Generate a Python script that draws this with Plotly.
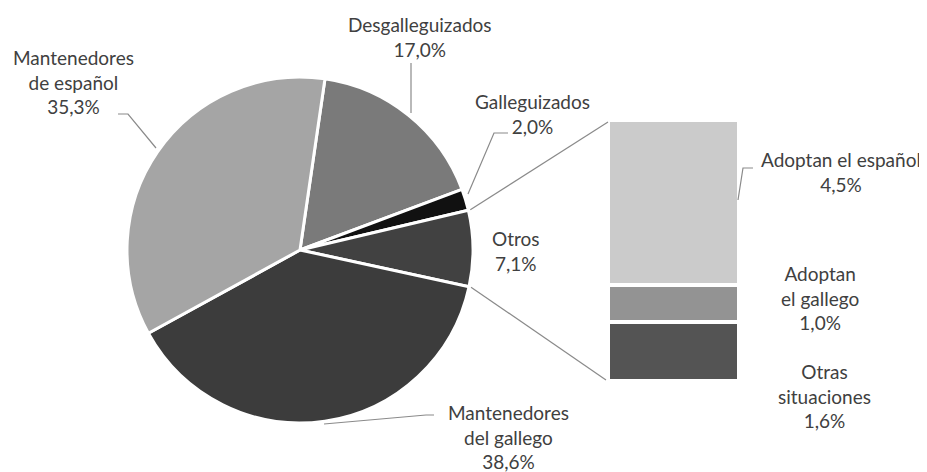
import math
import plotly.graph_objects as go

# ---- data ----
pie_labels = ["Desgalleguizados", "Galleguizados", "Otros",
              "Mantenedores del gallego", "Mantenedores de español"]
pie_values = [17.0, 2.0, 7.1, 38.6, 35.3]
pie_colors = ["#7a7a7a", "#111111", "#414141", "#3c3c3c", "#a5a5a5"]

bar_labels = ["Otras situaciones", "Adoptan el gallego", "Adoptan el español"]
bar_values = [1.6, 1.0, 4.5]
bar_colors = ["#545454", "#939393", "#cbcbcb"]

# label line splits (text), display lines
pie_label_lines = {
    "Desgalleguizados": ["Desgalleguizados"],
    "Galleguizados": ["Galleguizados"],
    "Otros": ["Otros"],
    "Mantenedores del gallego": ["Mantenedores", "del gallego"],
    "Mantenedores de español": ["Mantenedores", "de español"],
}
bar_label_lines = {
    "Otras situaciones": ["Otras", "situaciones"],
    "Adoptan el gallego": ["Adoptan", "el gallego"],
    "Adoptan el español": ["Adoptan el español"],
}

# ---- layout geometry (window pixels) ----
W, H = 927, 472
OFF = 8                      # page body margin
FW, FH = W - OFF, H - OFF    # figure size
CX, CY, R = 300, 250, 173
ROT = 8.3
BAR_X = (608, 739)
BAR_Y = (120, 381)   # top, bottom
FONT = dict(family="Lato, 'Open Sans', sans-serif", size=19, color="#404040")
LINE_COLOR = "#8a8a8a"

def px(x):
    return (x - OFF) / FW

def py(y):
    return 1 - (y - OFF) / FH

def fmt(v):
    return f"{v:.1f}".replace(".", ",") + "%"

fig = go.Figure()

fig.add_trace(go.Pie(
    labels=pie_labels, values=pie_values, sort=False, direction="clockwise",
    rotation=ROT, textinfo="none", hoverinfo="label+percent",
    marker=dict(colors=pie_colors, line=dict(color="white", width=3)),
    domain=dict(x=[px(CX - R), px(CX + R)], y=[py(CY + R), py(CY - R)]),
    showlegend=False,
))

for lab, val, col in zip(bar_labels, bar_values, bar_colors):
    fig.add_trace(go.Bar(
        x=[0], y=[val], name=lab, marker=dict(color=col, line=dict(color="white", width=4.5)),
        xaxis="x", yaxis="y", showlegend=False, hoverinfo="name+y",
    ))

# ---- connector lines from "Otros" slice to bar ----
total = sum(pie_values)
i_otros = pie_labels.index("Otros")
a0 = ROT + 360 * sum(pie_values[:i_otros]) / total
a1 = a0 + 360 * pie_values[i_otros] / total

def pie_pt(a, r=R):
    ar = math.radians(a)
    return CX + r * math.sin(ar), CY - r * math.cos(ar)

p0 = pie_pt(a0, R + 2)
p1 = pie_pt(a1, R + 2)
shapes = [
    dict(type="line", xref="paper", yref="paper", x0=px(p0[0]), y0=py(p0[1]),
         x1=px(BAR_X[0]), y1=py(BAR_Y[0] + 2), line=dict(color=LINE_COLOR, width=1.2)),
    dict(type="line", xref="paper", yref="paper", x0=px(p1[0]), y0=py(p1[1]),
         x1=px(BAR_X[0] - 2), y1=py(BAR_Y[1] - 1), line=dict(color=LINE_COLOR, width=1.2)),
]

# ---- leader lines (pixel polylines) ----
leaders = [
    [(118, 114), (128, 114), (156, 148)],
    [(411, 63), (411, 113)],
    [(508, 133), (494, 133), (468, 194)],
    [(753, 168), (743, 168), (738, 200)],
    [(434, 415), (426, 415), (324, 424)],
]
for pts in leaders:
    path = "M " + " L ".join(f"{px(x):.5f},{py(y):.5f}" for x, y in pts)
    shapes.append(dict(type="path", xref="paper", yref="paper", path=path,
                       line=dict(color=LINE_COLOR, width=1.2)))

# ---- labels ----
label_pos = {
    "Mantenedores de español": (73, 82),
    "Desgalleguizados": (420, 37),
    "Galleguizados": (532, 114),
    "Otros": (516, 251),
    "Mantenedores del gallego": (508, 437),
    "Adoptan el español": (841, 172),
    "Adoptan el gallego": (820, 298),
    "Otras situaciones": (824, 396),
}
annotations = []
for lab, val in zip(pie_labels, pie_values):
    x, y = label_pos[lab]
    annotations.append(dict(x=px(x), y=py(y), xref="paper", yref="paper",
                            text="<br>".join(pie_label_lines[lab] + [fmt(val)]),
                            showarrow=False, xanchor="center", yanchor="middle",
                            align="center", font=FONT))
for lab, val in zip(bar_labels, bar_values):
    x, y = label_pos[lab]
    annotations.append(dict(x=px(x), y=py(y), xref="paper", yref="paper",
                            text="<br>".join(bar_label_lines[lab] + [fmt(val)]),
                            showarrow=False, xanchor="center", yanchor="middle",
                            align="center", font=FONT))

fig.update_layout(
    width=FW, height=FH, margin=dict(l=0, r=0, t=0, b=0),
    paper_bgcolor="white", plot_bgcolor="rgba(0,0,0,0)",
    barmode="stack", bargap=0,
    xaxis=dict(domain=[px(BAR_X[0]), px(BAR_X[1])], range=[-0.5, 0.5], visible=False, fixedrange=True),
    yaxis=dict(domain=[py(BAR_Y[1]), py(BAR_Y[0])], range=[0, sum(bar_values)], visible=False, fixedrange=True),
    shapes=shapes, annotations=annotations, font=FONT,
)

fig.write_html("out.html")
